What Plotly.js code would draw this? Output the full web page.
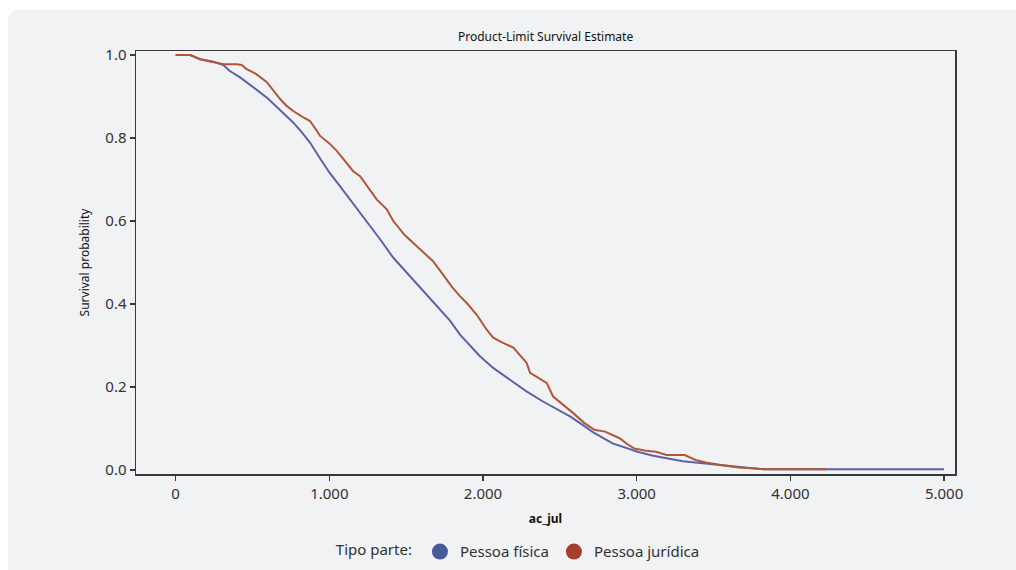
<!DOCTYPE html>
<html>
<head>
<meta charset="utf-8">
<script src="https://cdn.plot.ly/plotly-3.0.1.min.js"></script>
<style>
  html, body { margin: 0; padding: 0; background: #ffffff; width: 1016px; height: 570px; overflow: hidden; }
  #panel { position: absolute; left: 8px; top: 10px; width: 1008px; height: 560px; background: #f1f2f4; border-top-left-radius: 10px; }
  #chart { position: absolute; left: 0; top: 0; width: 1016px; height: 570px; }
</style>
</head>
<body>
<div id="panel"></div>
<div id="chart"></div>
<script>
// Pessoa física (Kaplan-Meier estimate)
const fisicaX = [0, 95, 159, 245, 310, 350, 419, 480, 549, 600, 658, 710, 766, 820, 874, 941, 1000, 1069, 1135, 1200, 1270, 1330, 1415, 1500, 1569, 1680, 1785, 1850, 1920, 1980, 2066, 2176, 2280, 2390, 2480, 2566, 2650, 2720, 2843, 2930, 3006, 3100, 3195, 3300, 3430, 3550, 3664, 3750, 3828, 4300, 5000];
const fisicaY = [1.0, 1.0, 0.990, 0.984, 0.976, 0.962, 0.946, 0.930, 0.910, 0.895, 0.874, 0.856, 0.837, 0.814, 0.789, 0.750, 0.717, 0.684, 0.652, 0.620, 0.586, 0.556, 0.512, 0.477, 0.450, 0.405, 0.360, 0.326, 0.298, 0.274, 0.246, 0.217, 0.190, 0.165, 0.146, 0.129, 0.108, 0.090, 0.064, 0.053, 0.044, 0.035, 0.028, 0.021, 0.016, 0.011, 0.0065, 0.004, 0.002, 0.002, 0.002];

// Pessoa jurídica
const juridicaX = [0, 95, 159, 245, 310, 397, 430, 462, 520, 592, 640, 680, 720, 765, 820, 874, 910, 940, 1000, 1048, 1092, 1155, 1200, 1265, 1308, 1374, 1416, 1490, 1590, 1675, 1741, 1800, 1850, 1900, 1959, 2024, 2066, 2120, 2197, 2240, 2284, 2306, 2414, 2456, 2520, 2587, 2660, 2725, 2794, 2840, 2889, 2940, 2983, 3050, 3124, 3195, 3312, 3383, 3450, 3547, 3664, 3750, 3828, 4238];
const juridicaY = [1.0, 1.0, 0.990, 0.984, 0.978, 0.978, 0.976, 0.966, 0.955, 0.935, 0.912, 0.894, 0.878, 0.865, 0.852, 0.841, 0.822, 0.805, 0.787, 0.769, 0.749, 0.720, 0.708, 0.676, 0.652, 0.628, 0.600, 0.566, 0.531, 0.503, 0.470, 0.440, 0.419, 0.400, 0.374, 0.338, 0.319, 0.308, 0.295, 0.278, 0.258, 0.234, 0.210, 0.177, 0.158, 0.137, 0.113, 0.097, 0.0925, 0.085, 0.0765, 0.062, 0.052, 0.047, 0.044, 0.036, 0.036, 0.024, 0.018, 0.012, 0.006, 0.004, 0.002, 0.002];

const seriesNames = ["Pessoa física", "Pessoa jurídica"];
const xTickVals = [0, 1000, 2000, 3000, 4000, 5000];
const xTickText = ["0", "1.000", "2.000", "3.000", "4.000", "5.000"];
const yTickVals = [0, 0.2, 0.4, 0.6, 0.8, 1.0];
const yTickText = ["0.0", "0.2", "0.4", "0.6", "0.8", "1.0"];

const lineColors = ["#5d62a6", "#b0563a"];
const legendColors = ["#46599b", "#a63e2f"];
const FONT = "Noto Sans, Open Sans, sans-serif";

const traces = [
  { x: fisicaX, y: fisicaY, type: "scatter", mode: "lines", line: { color: lineColors[0], width: 2 }, showlegend: false, hoverinfo: "skip" },
  { x: juridicaX, y: juridicaY, type: "scatter", mode: "lines", line: { color: lineColors[1], width: 2 }, showlegend: false, hoverinfo: "skip" },
  { x: [null], y: [null], type: "scatter", mode: "markers", name: seriesNames[0], marker: { color: legendColors[0], size: 17, symbol: "circle" } },
  { x: [null], y: [null], type: "scatter", mode: "markers", name: seriesNames[1], marker: { color: legendColors[1], size: 17, symbol: "circle" } }
];

const axisCommon = {
  showline: true, mirror: true, linecolor: "#3a3a3a", linewidth: 1.5,
  ticks: "outside", ticklen: 5, tickwidth: 1.3, tickcolor: "#3a3a3a",
  showgrid: false, zeroline: false, automargin: false,
  tickfont: { family: FONT, size: 15, color: "#333333" }
};

const layout = {
  width: 1016, height: 570,
  margin: { l: 136, r: 61, t: 51, b: 96, autoexpand: false },
  paper_bgcolor: "rgba(0,0,0,0)",
  plot_bgcolor: "rgba(0,0,0,0)",
  font: { family: FONT, color: "#222222" },
  title: { text: "Product-Limit Survival Estimate", font: { family: FONT, size: 12, color: "#111111" }, x: 0.537, xanchor: "center", y: 0.935, yanchor: "middle" },
  xaxis: Object.assign({}, axisCommon, {
    range: [-258, 5071], tickvals: xTickVals, ticktext: xTickText,
    title: { text: "<b>ac_jul</b>", font: { family: FONT, size: 12, color: "#111111" }, standoff: 13 }
  }),
  yaxis: Object.assign({}, axisCommon, {
    range: [-0.0097, 1.0097], tickvals: yTickVals, ticktext: yTickText,
    title: { text: "Survival probability", font: { family: FONT, size: 12, color: "#111111" }, standoff: 13 }
  }),
  showlegend: true,
  legend: {
    orientation: "h", x: 0.468, xanchor: "center", y: -0.184, yanchor: "middle",
    bgcolor: "rgba(0,0,0,0)",
    font: { family: FONT, size: 15, color: "#333333" },
    title: { text: "Tipo parte:", side: "left", font: { family: FONT, size: 15, color: "#333333" } }
  }
};

Plotly.newPlot("chart", traces, layout, { displayModeBar: false, staticPlot: true });
</script>
</body>
</html>
